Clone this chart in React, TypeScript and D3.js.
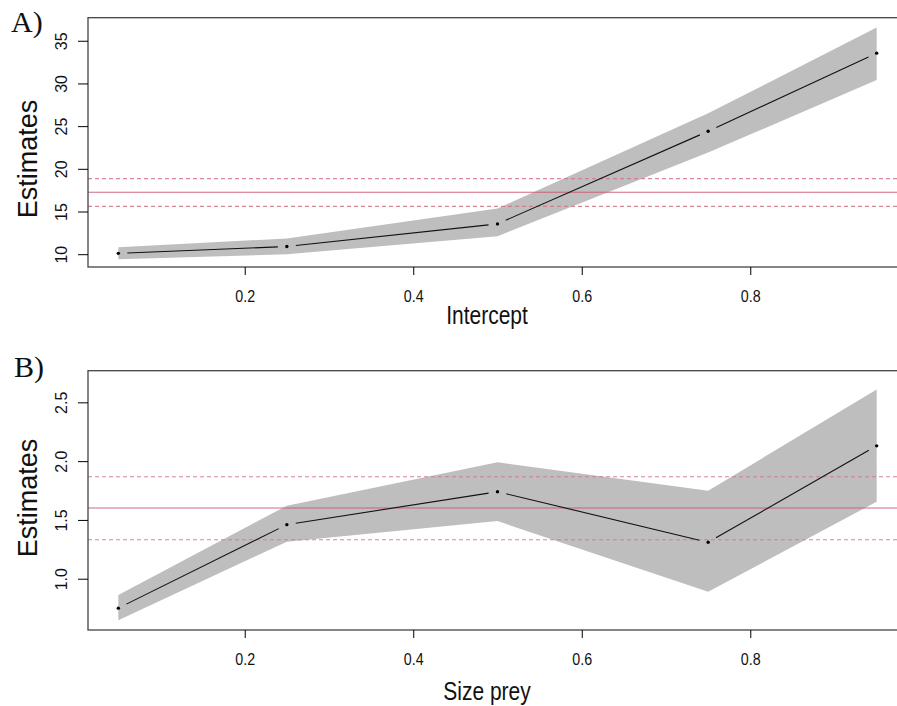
import React, {useRef, useEffect} from 'react'
import * as d3 from 'd3'

// quantile levels on the x axis (same for both panels)
const quantiles = [0.05, 0.25, 0.5, 0.75, 0.95]
const xTicks = [0.2, 0.4, 0.6, 0.8]

// panel A: intercept
const interceptEst = [10.1, 10.9, 13.55, 24.4, 33.55]
const interceptLower = [9.4, 10.0, 12.1, 21.9, 30.4]
const interceptUpper = [10.8, 11.85, 15.35, 26.5, 36.55]
const interceptRef = [15.6, 17.25, 18.85] // lower, mean, upper
const interceptTicks = [10, 15, 20, 25, 30, 35]

// panel B: size prey
const sizeEst = [0.75, 1.46, 1.74, 1.31, 2.13]
const sizeLower = [0.646, 1.315, 1.49, 0.889, 1.655]
const sizeUpper = [0.861, 1.621, 1.99, 1.748, 2.61]
const sizeRef = [1.332, 1.601, 1.867]
const sizeTicks = [1.0, 1.5, 2.0, 2.5]

const W = 897
const H = 706
const sansFont = '"Liberation Sans", Arial, sans-serif'
const serifFont = '"Liberation Serif", "Times New Roman", serif'

function drawPanel(svg, p){
	let x = d3.scaleLinear().domain([0.014, 0.986]).range([88, 907])
	let y = d3.scaleLinear().domain(p.yDomain).range([p.bottom, p.top])
	let g = svg.append('g')

	let rows = quantiles.map(function(q, i){ return {q:q, est:p.est[i], lo:p.lower[i], hi:p.upper[i]} })

	// confidence band
	let area = d3.area()
		.x(function(d){ return x(d.q) })
		.y0(function(d){ return y(d.lo) })
		.y1(function(d){ return y(d.hi) })
	g.append('path')
		.datum(rows)
		.attr('d', area)
		.attr('fill', '#bebebe')

	// reference lines (dashed, solid, dashed)
	g.selectAll('.ref')
		.data(p.ref)
		.enter()
		.append('line')
		.attr('x1', 88)
		.attr('x2', 907)
		.attr('y1', function(d){ return y(d) })
		.attr('y2', function(d){ return y(d) })
		.attr('stroke', function(d, i){ return i === 1 ? '#cc5a72' : '#d5788b' })
		.attr('stroke-opacity', 0.9)
		.attr('stroke-width', 1.1)
		.attr('stroke-dasharray', function(d, i){ return i === 1 ? null : '4,3' })

	// type = "b": segments with a gap around each point
	let gap = 9
	let segs = []
	for(let i = 0; i < rows.length - 1; i++){
		let x1 = x(rows[i].q), y1 = y(rows[i].est)
		let x2 = x(rows[i+1].q), y2 = y(rows[i+1].est)
		let len = Math.hypot(x2 - x1, y2 - y1)
		let ux = (x2 - x1) / len, uy = (y2 - y1) / len
		segs.push({x1:x1 + ux*gap, y1:y1 + uy*gap, x2:x2 - ux*gap, y2:y2 - uy*gap})
	}
	g.selectAll('.seg')
		.data(segs)
		.enter()
		.append('line')
		.attr('x1', function(d){ return d.x1 })
		.attr('y1', function(d){ return d.y1 })
		.attr('x2', function(d){ return d.x2 })
		.attr('y2', function(d){ return d.y2 })
		.attr('stroke', '#111')
		.attr('stroke-width', 1.1)

	g.selectAll('.pt')
		.data(rows)
		.enter()
		.append('circle')
		.attr('cx', function(d){ return x(d.q) })
		.attr('cy', function(d){ return y(d.est) })
		.attr('r', 1.7)
		.attr('fill', '#000')

	// box
	g.append('rect')
		.attr('x', 88)
		.attr('y', p.top)
		.attr('width', 907 - 88)
		.attr('height', p.bottom - p.top)
		.attr('fill', 'none')
		.attr('stroke', '#444')
		.attr('stroke-width', 1.3)

	// x axis (narrow-looking labels)
	let xAxis = g.append('g')
		.attr('transform', 'translate(0,' + p.bottom + ')')
		.call(d3.axisBottom(x).tickValues(xTicks).tickSize(8).tickFormat(d3.format('.1f')))
	xAxis.select('.domain').remove()
	xAxis.attr('font-family', sansFont).attr('font-size', 17)
	xAxis.selectAll('.tick line').attr('stroke', '#000')
	xAxis.selectAll('.tick text')
		.attr('y', 0)
		.attr('dy', 0)
		.attr('fill', '#111')
		.attr('transform', 'translate(0,35) scale(0.84,1)')

	// y axis with rotated labels
	let yAxis = g.append('g')
		.attr('transform', 'translate(88,0)')
		.call(d3.axisLeft(y).tickValues(p.yTicks).tickSize(10).tickFormat(p.yFormat))
	yAxis.select('.domain').remove()
	yAxis.attr('font-family', sansFont).attr('font-size', 16)
	yAxis.selectAll('.tick line').attr('stroke', '#000')
	yAxis.selectAll('.tick text')
		.attr('x', 0)
		.attr('dy', 0)
		.attr('text-anchor', 'middle')
		.attr('fill', '#111')
		.attr('transform', 'translate(-21,0) rotate(-90)')

	// titles
	g.append('text')
		.attr('transform', 'translate(37,' + p.ylabY + ') rotate(-90)')
		.attr('text-anchor', 'middle')
		.attr('font-family', sansFont)
		.attr('font-size', 27)
		.attr('fill', '#111')
		.text('Estimates')
	g.append('text')
		.attr('transform', 'translate(487,' + p.xlabY + ') scale(0.84,1)')
		.attr('text-anchor', 'middle')
		.attr('font-family', sansFont)
		.attr('font-size', 25)
		.attr('fill', '#111')
		.text(p.xlab)
	g.append('text')
		.attr('x', p.letterX)
		.attr('y', p.letterY)
		.attr('font-family', serifFont)
		.attr('font-size', 30)
		.attr('fill', '#111')
		.text(p.letter)
}

export default function App(){
	const svgRef = useRef(null)
	useEffect(() => {
		let svg = d3.select(svgRef.current)
		svg.selectAll('*').remove()
		drawPanel(svg, {
			letter:'A)', letterX:11, letterY:32,
			est:interceptEst, lower:interceptLower, upper:interceptUpper, ref:interceptRef,
			yDomain:[8.5, 37.7], yTicks:interceptTicks, yFormat:d3.format('d'),
			top:17.7, bottom:267, ylabY:159, xlab:'Intercept', xlabY:324,
		})
		drawPanel(svg, {
			letter:'B)', letterX:14, letterY:377,
			est:sizeEst, lower:sizeLower, upper:sizeUpper, ref:sizeRef,
			yDomain:[0.564, 2.769], yTicks:sizeTicks, yFormat:d3.format('.1f'),
			top:370.7, bottom:630, ylabY:498, xlab:'Size prey', xlabY:700,
		})
	}, [])
	return (
		<svg ref={svgRef} width={W} height={H} style={{position:'absolute', left:0, top:0, background:'#fff'}}/>
	)
}
